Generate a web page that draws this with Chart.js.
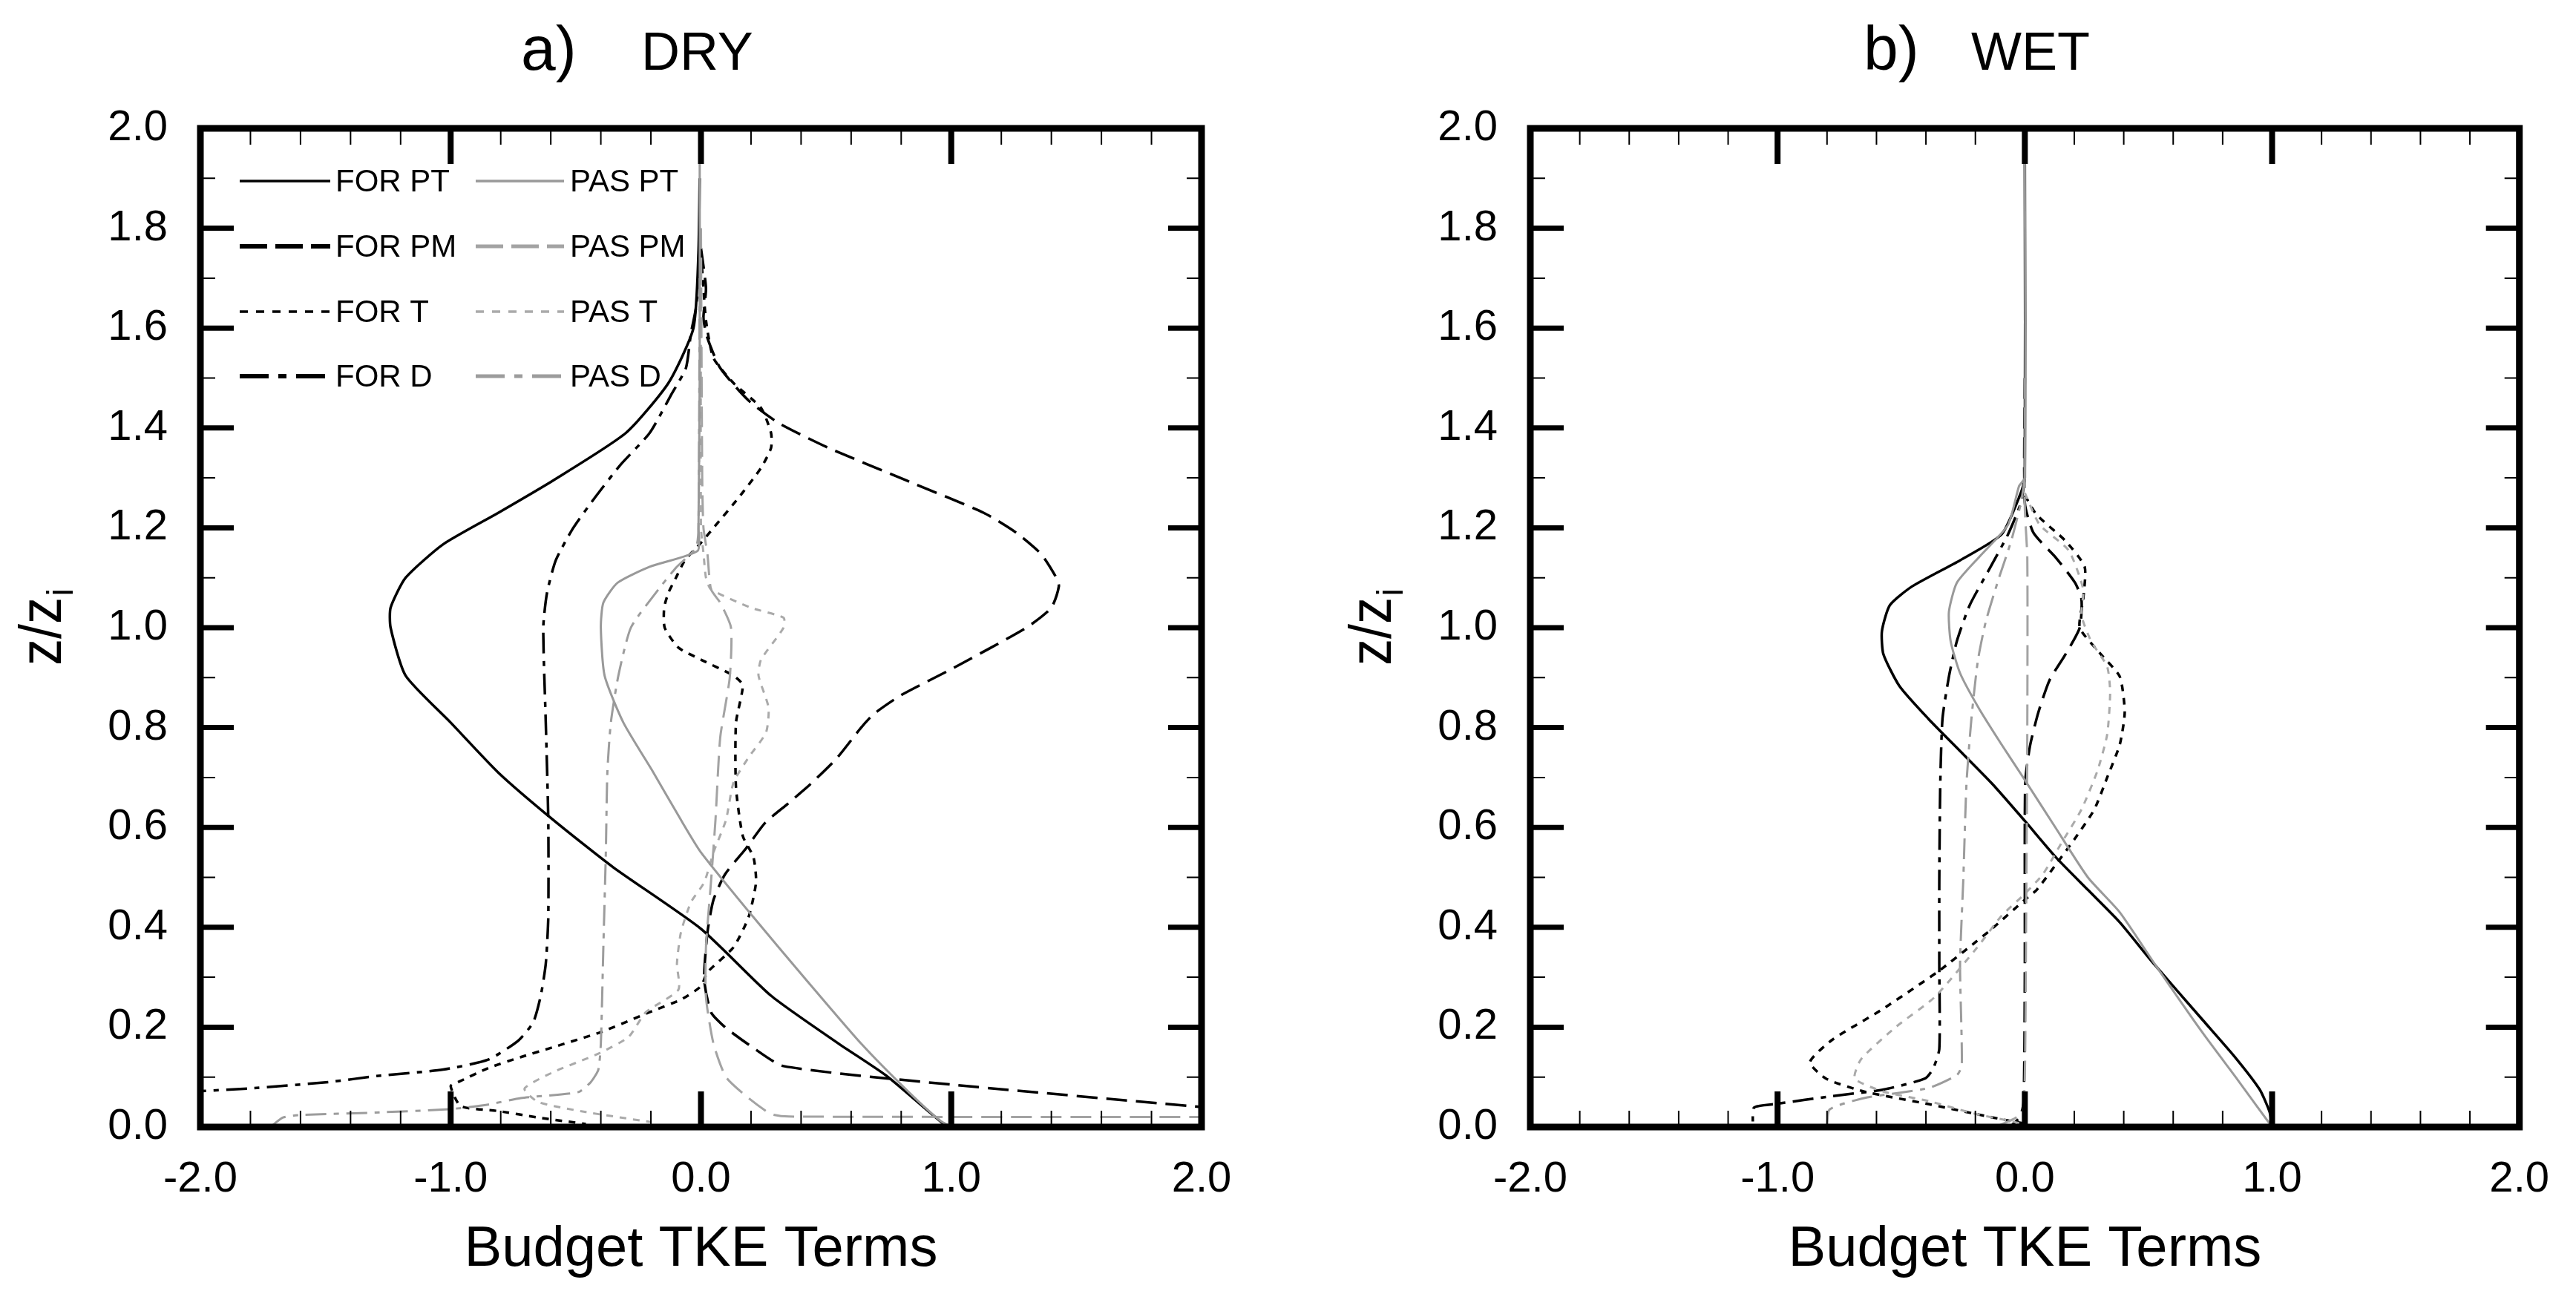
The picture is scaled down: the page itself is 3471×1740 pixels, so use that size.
<!DOCTYPE html>
<html lang="en">
<head>
  <meta charset="UTF-8">
  <title>Budget TKE Terms - DRY / WET</title>
  <script src="https://cdn.jsdelivr.net/npm/chart.js"></script>
  <style>
    html, body { margin: 0; padding: 0; background: #fff; }
    .panel { position: absolute; top: 0; }
    #dryPanel { left: 0; }
    #wetPanel { left: 1735px; }
  </style>
</head>
<body>

  <div class="panel" id="dryPanel"><canvas id="dryChart" width="1735" height="1740"></canvas></div>
  <div class="panel" id="wetPanel"><canvas id="wetChart" width="1736" height="1740"></canvas></div>

  <script>
    // profiles, each point is [term value, z/zi]

    // a) DRY
    const dryForPT = [[-0.005,1.9],[-0.01,1.75],[-0.03,1.6],[-0.13,1.49],[-0.30,1.39],[-0.59,1.295],[-0.81,1.23],[-1.03,1.167],[-1.18,1.10],[-1.24,1.04],[-1.24,1.0],[-1.18,0.904],[-1.0,0.81],[-0.81,0.71],[-0.59,0.615],[-0.35,0.52],[0.0,0.397],[0.28,0.263],[0.55,0.167],[0.74,0.103],[0.96,0.01],[1.0,0.0]];
    const dryForPM = [[0.0,1.76],[0.02,1.68],[0.01,1.62],[0.026,1.58],[0.077,1.52],[0.19,1.455],[0.31,1.41],[0.51,1.36],[0.82,1.295],[1.13,1.23],[1.26,1.19],[1.36,1.147],[1.42,1.10],[1.43,1.083],[1.40,1.04],[1.30,1.0],[1.0,0.917],[0.80,0.865],[0.69,0.827],[0.64,0.80],[0.54,0.737],[0.436,0.686],[0.346,0.647],[0.256,0.609],[0.18,0.558],[0.096,0.506],[0.05,0.455],[0.026,0.39],[0.013,0.295],[0.04,0.23],[0.096,0.2],[0.205,0.16],[0.33,0.122],[1.0,0.085],[2.0,0.04]];
    const dryForT = [[0.0,1.75],[0.01,1.68],[0.02,1.615],[0.05,1.54],[0.13,1.49],[0.24,1.44],[0.28,1.39],[0.28,1.36],[0.24,1.32],[0.15,1.26],[0.05,1.2],[0.0,1.17],[-0.064,1.135],[-0.10,1.10],[-0.13,1.07],[-0.147,1.04],[-0.145,1.0],[-0.09,0.96],[0.0,0.936],[0.13,0.904],[0.167,0.885],[0.14,0.81],[0.14,0.68],[0.167,0.583],[0.21,0.54],[0.22,0.49],[0.19,0.42],[0.13,0.36],[0.026,0.31],[0.0,0.282],[-0.077,0.256],[-0.205,0.23],[-0.4,0.19],[-0.59,0.16],[-0.72,0.14],[-0.85,0.118],[-0.97,0.09],[-1.0,0.082],[-0.96,0.042],[-0.81,0.032],[-0.65,0.019],[-0.46,0.006]];
    const dryForD = [[-0.005,1.72],[-0.02,1.64],[-0.04,1.59],[-0.06,1.52],[-0.115,1.47],[-0.205,1.39],[-0.32,1.327],[-0.42,1.263],[-0.51,1.2],[-0.58,1.135],[-0.615,1.07],[-0.63,1.0],[-0.62,0.81],[-0.61,0.615],[-0.61,0.42],[-0.62,0.327],[-0.64,0.263],[-0.67,0.21],[-0.73,0.173],[-0.85,0.135],[-1.03,0.115],[-1.28,0.103],[-1.49,0.09],[-1.81,0.077],[-2.0,0.072]];
    const dryPasPT = [[-0.005,1.93],[-0.005,1.5],[-0.01,1.2],[-0.013,1.154],[-0.205,1.122],[-0.333,1.09],[-0.39,1.05],[-0.40,1.0],[-0.385,0.904],[-0.31,0.81],[-0.19,0.71],[-0.08,0.615],[0.0,0.55],[0.205,0.423],[0.42,0.295],[0.64,0.167],[0.83,0.07],[0.955,0.013],[1.0,0.0]];
    const dryPasPM = [[0.0,1.8],[0.005,1.3],[0.01,1.2],[0.026,1.147],[0.04,1.077],[0.077,1.05],[0.12,1.0],[0.115,0.9],[0.077,0.78],[0.058,0.615],[0.04,0.49],[0.02,0.36],[0.02,0.26],[0.05,0.167],[0.10,0.10],[0.19,0.058],[0.28,0.026],[0.35,0.021],[2.0,0.02]];
    const dryPasT = [[0.0,1.7],[0.0,1.2],[0.01,1.15],[0.02,1.1],[0.04,1.077],[0.2,1.04],[0.33,1.02],[0.33,1.0],[0.24,0.936],[0.23,0.904],[0.27,0.84],[0.26,0.79],[0.19,0.74],[0.13,0.69],[0.10,0.615],[0.05,0.55],[0.013,0.49],[-0.04,0.45],[-0.08,0.39],[-0.096,0.327],[-0.09,0.275],[-0.22,0.23],[-0.29,0.18],[-0.41,0.147],[-0.59,0.11],[-0.705,0.077],[-0.65,0.05],[-0.46,0.03],[-0.2,0.01]];
    const dryPasD = [[-0.005,1.7],[-0.01,1.2],[-0.02,1.16],[-0.1,1.12],[-0.18,1.07],[-0.28,1.0],[-0.33,0.904],[-0.36,0.81],[-0.374,0.71],[-0.38,0.55],[-0.39,0.36],[-0.40,0.167],[-0.41,0.115],[-0.44,0.09],[-0.49,0.07],[-0.72,0.058],[-0.85,0.045],[-1.0,0.036],[-1.3,0.029],[-1.6,0.024],[-1.67,0.019],[-1.72,0.0]];

    // b) WET
    const wetForPT = [[0.0,1.93],[0.0,1.3],[-0.016,1.27],[-0.094,1.187],[-0.262,1.135],[-0.455,1.083],[-0.546,1.045],[-0.578,0.993],[-0.572,0.947],[-0.507,0.883],[-0.391,0.818],[-0.262,0.753],[-0.133,0.688],[0.0,0.613],[0.126,0.54],[0.255,0.475],[0.384,0.41],[0.513,0.332],[0.72,0.214],[0.85,0.14],[0.95,0.075],[0.99,0.03],[1.0,0.0]];
    const wetForPM = [[0.0,1.5],[0.0,1.25],[0.035,1.19],[0.126,1.14],[0.203,1.09],[0.229,1.057],[0.222,1.0],[0.165,0.947],[0.1,0.895],[0.055,0.831],[0.022,0.766],[0.003,0.7],[0.0,0.62],[0.0,0.3],[-0.005,0.05],[-0.02,0.02],[-0.06,0.0]];
    const wetForT = [[0.0,1.265],[0.048,1.226],[0.164,1.174],[0.242,1.122],[0.236,1.057],[0.222,1.0],[0.307,0.947],[0.384,0.902],[0.404,0.831],[0.384,0.766],[0.333,0.7],[0.281,0.636],[0.203,0.578],[0.126,0.526],[0.048,0.475],[0.0,0.455],[-0.133,0.397],[-0.2,0.37],[-0.352,0.311],[-0.585,0.233],[-0.778,0.175],[-0.869,0.13],[-0.804,0.097],[-0.65,0.071],[-0.39,0.046],[-0.197,0.026],[-0.068,0.013],[0.0,0.007]];
    const wetForD = [[0.0,1.3],[-0.016,1.25],[-0.068,1.187],[-0.145,1.116],[-0.223,1.045],[-0.275,0.973],[-0.307,0.902],[-0.333,0.818],[-0.342,0.688],[-0.346,0.494],[-0.346,0.326],[-0.346,0.156],[-0.371,0.117],[-0.404,0.097],[-0.572,0.075],[-0.778,0.062],[-1.01,0.046],[-1.095,0.039],[-1.1,0.0]];
    const wetPasPT = [[0.0,1.93],[0.0,1.3],[-0.023,1.284],[-0.068,1.206],[-0.184,1.142],[-0.275,1.09],[-0.307,1.032],[-0.3,0.973],[-0.262,0.909],[-0.184,0.837],[-0.094,0.766],[0.0,0.695],[0.126,0.598],[0.255,0.5],[0.384,0.43],[0.526,0.326],[0.72,0.188],[0.86,0.095],[1.0,0.0]];
    const wetPasPM = [[0.0,1.5],[0.0,1.24],[0.01,1.14],[0.01,0.8],[0.005,0.4],[0.0,0.1],[-0.01,0.03],[-0.05,0.015],[-0.12,0.0]];
    const wetPasT = [[0.0,1.27],[0.06,1.206],[0.177,1.155],[0.236,1.077],[0.229,1.025],[0.268,0.973],[0.333,0.922],[0.345,0.87],[0.333,0.786],[0.294,0.714],[0.229,0.636],[0.152,0.572],[0.074,0.507],[0.0,0.467],[-0.094,0.423],[-0.197,0.357],[-0.365,0.26],[-0.52,0.201],[-0.662,0.136],[-0.688,0.097],[-0.572,0.071],[-0.39,0.052],[-0.197,0.026],[-0.068,0.013],[0.0,0.005]];
    const wetPasD = [[0.0,1.3],[-0.016,1.25],[-0.055,1.174],[-0.107,1.096],[-0.158,1.012],[-0.19,0.934],[-0.216,0.818],[-0.236,0.688],[-0.249,0.494],[-0.262,0.326],[-0.255,0.123],[-0.275,0.104],[-0.39,0.078],[-0.65,0.058],[-0.79,0.035],[-0.8,0.0]];

    // axis ticks
    const xTickValues = [-2.0, -1.0, 0.0, 1.0, 2.0];
    const yTickValues = [0.0, 0.2, 0.4, 0.6, 0.8, 1.0, 1.2, 1.4, 1.6, 1.8, 2.0];

    const FONT = '"Liberation Sans", Arial, Helvetica, sans-serif';

    // the figure uses a narrow helvetica for ticks and legend, use it if it is installed
    function fontInstalled(name) {
      const c = document.createElement('canvas').getContext('2d');
      c.font = '64px monospace';
      const a = c.measureText('FOR PT 1.0').width;
      c.font = '64px "' + name + '", monospace';
      return c.measureText('FOR PT 1.0').width !== a;
    }
    const hasNarrow = fontInstalled('Liberation Sans Narrow');
    const NARROW = hasNarrow ? '"Liberation Sans Narrow", ' + FONT : FONT;
    const tickSize = hasNarrow ? 63 : 58;
    const legendSize = hasNarrow ? 48 : 42;

    // line styles, FOR = black, PAS = grey
    const STYLES = {
      forPT: { label: 'FOR PT', color: '#000000', width: 3.5, dash: [],              legendWidth: 3.5, legendDash: [] },
      forPM: { label: 'FOR PM', color: '#000000', width: 3.5, dash: [28, 12],        legendWidth: 6,   legendDash: [37, 11] },
      forT:  { label: 'FOR T',  color: '#000000', width: 3.5, dash: [9, 9],          legendWidth: 3.5, legendDash: [11, 11] },
      forD:  { label: 'FOR D',  color: '#000000', width: 3.5, dash: [28, 10, 7, 10], legendWidth: 6,   legendDash: [39, 13, 11, 13] },
      pasPT: { label: 'PAS PT', color: '#999999', width: 3,   dash: [],              legendWidth: 3.5, legendDash: [] },
      pasPM: { label: 'PAS PM', color: '#a3a3a3', width: 3,   dash: [28, 12],        legendWidth: 5,   legendDash: [37, 11] },
      pasT:  { label: 'PAS T',  color: '#aaaaaa', width: 3,   dash: [9, 9],          legendWidth: 3.5, legendDash: [11, 11] },
      pasD:  { label: 'PAS D',  color: '#9c9c9c', width: 3,   dash: [28, 10, 7, 10], legendWidth: 5,   legendDash: [39, 13, 11, 13] }
    };

    function makeDataset(key, pairs) {
      const s = STYLES[key];
      return {
        label: s.label,
        data: pairs.map(([x, z]) => ({ x: x, y: z })),
        showLine: true,
        borderColor: s.color,
        borderWidth: s.width,
        borderDash: s.dash,
        pointRadius: 0,
        tension: 0.2,
        fill: false
      };
    }

    // inward ticks on all four sides plus the heavy frame
    const framePlugin = {
      id: 'frame',
      afterDatasetsDraw(chart) {
        const { ctx, chartArea: a, scales: { x, y } } = chart;
        ctx.save();
        ctx.strokeStyle = '#000';
        ctx.lineCap = 'butt';
        for (let i = -9; i <= 9; i++) {
          const px = x.getPixelForValue(i / 5);
          const major = i % 5 === 0;
          ctx.lineWidth = major ? 8 : 2;
          const len = major ? 48 : 22;
          ctx.beginPath();
          ctx.moveTo(px, a.bottom); ctx.lineTo(px, a.bottom - len);
          ctx.moveTo(px, a.top); ctx.lineTo(px, a.top + len);
          ctx.stroke();
        }
        for (let i = 1; i <= 19; i++) {
          const py = y.getPixelForValue(i / 10);
          const major = i % 2 === 0;
          ctx.lineWidth = major ? 7 : 2;
          const len = major ? 45 : 20;
          ctx.beginPath();
          ctx.moveTo(a.left, py); ctx.lineTo(a.left + len, py);
          ctx.moveTo(a.right, py); ctx.lineTo(a.right - len, py);
          ctx.stroke();
        }
        ctx.lineWidth = 9;
        ctx.strokeRect(a.left, a.top, a.right - a.left, a.bottom - a.top);
        ctx.restore();
      }
    };

    // panel title, y axis title with subscript, optional legend
    const labelsPlugin = {
      id: 'panelLabels',
      afterDraw(chart, args, opts) {
        const { ctx, chartArea: a } = chart;
        ctx.save();
        ctx.fillStyle = '#000';
        ctx.textAlign = 'left';
        ctx.textBaseline = 'alphabetic';
        ctx.font = '84px ' + FONT;
        ctx.fillText(opts.tag, opts.tagX, 94);
        ctx.font = '72px ' + FONT;
        ctx.fillText(opts.name, opts.nameX, 94);

        // z/z_i, rotated, a bit condensed like the original font
        ctx.save();
        ctx.translate(a.left - 188, 851);
        ctx.rotate(-Math.PI / 2);
        ctx.scale(0.9, 1);
        ctx.font = '80px ' + FONT;
        const w = ctx.measureText('z/z').width;
        ctx.fillText('z/z', -w / 2, 0);
        ctx.font = '50px ' + FONT;
        ctx.fillText('i', w / 2 + 2, 16);
        ctx.restore();

        if (opts.legend) {
          const rowY = [244, 332, 420, 507];
          const cols = [{ x0: 323, x1: 445, tx: 452 }, { x0: 641, x1: 760, tx: 768 }];
          ctx.font = legendSize + 'px ' + NARROW;
          ctx.textBaseline = 'middle';
          opts.legend.forEach((keys, c) => {
            keys.forEach((key, r) => {
              const s = STYLES[key];
              ctx.strokeStyle = s.color;
              ctx.lineWidth = s.legendWidth;
              ctx.setLineDash(s.legendDash);
              ctx.beginPath();
              ctx.moveTo(cols[c].x0, rowY[r]);
              ctx.lineTo(cols[c].x1, rowY[r]);
              ctx.stroke();
              ctx.setLineDash([]);
              ctx.fillText(s.label, cols[c].tx, rowY[r] + 2);
            });
          });
        }
        ctx.restore();
      }
    };

    function drawPanel(canvasId, datasets, yAxisWidth, padRight, labelOpts) {
      const ctx = document.getElementById(canvasId).getContext('2d');
      new Chart(ctx, {
        type: 'scatter',
        data: { datasets: datasets },
        options: {
          responsive: false,
          animation: false,
          devicePixelRatio: 1,
          layout: { padding: { left: 0, top: 173, right: padRight, bottom: 0 } },
          scales: {
            x: {
              type: 'linear', min: -2, max: 2,
              afterBuildTicks: s => { s.ticks = xTickValues.map(v => ({ value: v })); },
              afterFit: s => { s.height = 221; },
              ticks: {
                color: '#000', padding: 36, maxRotation: 0, autoSkip: false,
                font: { family: NARROW, size: tickSize },
                callback: v => v.toFixed(1)
              },
              grid: { display: false, drawTicks: false },
              border: { display: false },
              title: {
                display: true, text: 'Budget TKE Terms', color: '#000',
                font: { family: FONT, size: 76 },
                padding: { top: 0, bottom: 9 }
              }
            },
            y: {
              type: 'linear', min: 0, max: 2,
              afterBuildTicks: s => { s.ticks = yTickValues.map(v => ({ value: v })); },
              afterFit: s => { s.width = yAxisWidth; },
              ticks: {
                color: '#000', padding: 44, autoSkip: false,
                font: { family: NARROW, size: tickSize },
                callback: v => v.toFixed(1)
              },
              grid: { display: false, drawTicks: false },
              border: { display: false }
            }
          },
          plugins: {
            legend: { display: false },
            tooltip: { enabled: false },
            panelLabels: labelOpts
          }
        },
        plugins: [framePlugin, labelsPlugin]
      });
    }

    drawPanel('dryChart', [
      makeDataset('pasPT', dryPasPT), makeDataset('pasPM', dryPasPM),
      makeDataset('pasT', dryPasT), makeDataset('pasD', dryPasD),
      makeDataset('forPT', dryForPT), makeDataset('forPM', dryForPM),
      makeDataset('forT', dryForT), makeDataset('forD', dryForD)
    ], 270, 116, {
      tag: 'a)', tagX: 702, name: 'DRY', nameX: 864,
      legend: [['forPT', 'forPM', 'forT', 'forD'], ['pasPT', 'pasPM', 'pasT', 'pasD']]
    });

    drawPanel('wetChart', [
      makeDataset('pasPT', wetPasPT), makeDataset('pasPM', wetPasPM),
      makeDataset('pasT', wetPasT), makeDataset('pasD', wetPasD),
      makeDataset('forPT', wetForPT), makeDataset('forPM', wetForPM),
      makeDataset('forT', wetForT), makeDataset('forD', wetForD)
    ], 327, 59, {
      tag: 'b)', tagX: 776, name: 'WET', nameX: 921,
      legend: null
    });
  </script>

</body>
</html>
